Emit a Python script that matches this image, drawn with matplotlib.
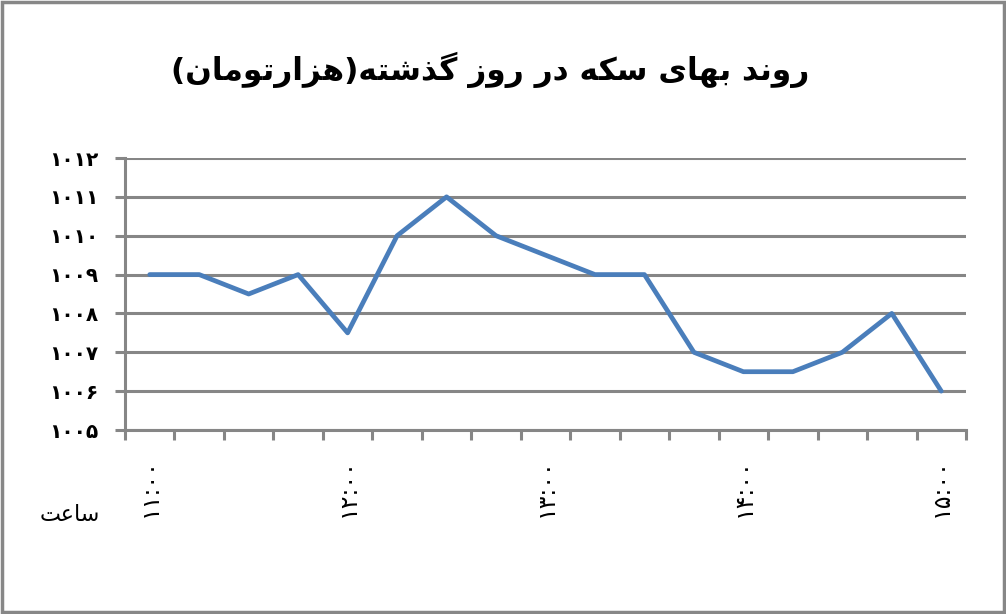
import matplotlib
matplotlib.use("Agg")
import matplotlib.pyplot as plt
from matplotlib.patches import Rectangle

# ---------------- data ----------------
title_text = "روند بهای سکه در روز گذشته(هزارتومان)"
x_axis_title = "ساعت"
x_labels = ["۱۱:۰۰", "۱۲:۰۰", "۱۳:۰۰", "۱۴:۰۰", "۱۵:۰۰"]
label_every = 4
prices = [1009, 1009, 1008.5, 1009, 1007.5, 1010, 1011, 1010, 1009.5,
          1009, 1009, 1007, 1006.5, 1006.5, 1007, 1008, 1006]
y_ticks = [1005, 1006, 1007, 1008, 1009, 1010, 1011, 1012]

# ------------- minimal Arabic/Persian shaping -------------
# forms: (isolated, final, initial, medial); None for initial/medial => right-joining only
FORMS = {
    'ا': ('\uFE8D', '\uFE8E', None, None),
    'ب': ('\uFE8F', '\uFE90', '\uFE91', '\uFE92'),
    'ت': ('\uFE95', '\uFE96', '\uFE97', '\uFE98'),
    'د': ('\uFEA9', '\uFEAA', None, None),
    'ذ': ('\uFEAB', '\uFEAC', None, None),
    'ر': ('\uFEAD', '\uFEAE', None, None),
    'ز': ('\uFEAF', '\uFEB0', None, None),
    'س': ('\uFEB1', '\uFEB2', '\uFEB3', '\uFEB4'),
    'ش': ('\uFEB5', '\uFEB6', '\uFEB7', '\uFEB8'),
    'ع': ('\uFEC9', '\uFECA', '\uFECB', '\uFECC'),
    'م': ('\uFEE1', '\uFEE2', '\uFEE3', '\uFEE4'),
    'ن': ('\uFEE5', '\uFEE6', '\uFEE7', '\uFEE8'),
    'ه': ('\uFEE9', '\uFEEA', '\uFEEB', '\uFEEC'),
    'و': ('\uFEED', '\uFEEE', None, None),
    'ی': ('\uFBFC', '\uFBFD', '\uFBFE', '\uFBFF'),
    'ک': ('\uFB8E', '\uFB8F', '\uFB90', '\uFB91'),
    'گ': ('\uFB92', '\uFB93', '\uFB94', '\uFB95'),
}
MIRROR = {'(': ')', ')': '('}


def shape(text):
    out = []
    n = len(text)
    for i, ch in enumerate(text):
        if ch not in FORMS:
            out.append(ch)
            continue
        prev = text[i - 1] if i > 0 else None
        nxt = text[i + 1] if i < n - 1 else None
        join_prev = prev in FORMS and FORMS[prev][2] is not None
        join_next = nxt in FORMS and FORMS[ch][2] is not None
        iso, fin, ini, med = FORMS[ch]
        if join_prev and join_next:
            out.append(med)
        elif join_prev:
            out.append(fin)
        elif join_next:
            out.append(ini)
        else:
            out.append(iso)
    vis = ''.join(MIRROR.get(c, c) for c in reversed(out))
    return vis


W, H = 1006, 614
fig = plt.figure(figsize=(W / 100, H / 100), dpi=100)
fig.patch.set_facecolor("white")

ax = fig.add_axes([125 / W, 1 - 430 / H, (966 - 125) / W, (430 - 158) / H])

grid_c = "#868686"
x = list(range(len(prices)))
ax.plot(x, prices, color="#4A7EBB", lw=3.4, solid_joinstyle="round",
        solid_capstyle="round", zorder=3)

ax.set_xlim(-0.5, len(prices) - 0.5)
ax.set_ylim(y_ticks[0], y_ticks[-1])
ax.set_yticks(y_ticks)
persian_digits = str.maketrans("0123456789", "۰۱۲۳۴۵۶۷۸۹")
ax.set_yticklabels([str(v).translate(persian_digits) for v in y_ticks],
                   fontsize=14.5, fontweight="bold", family=["DejaVu Sans"])
ax.yaxis.grid(True, color=grid_c, lw=2.2)
ax.set_axisbelow(True)

# category boundary ticks
ax.set_xticks([i - 0.5 for i in range(len(prices) + 1)])
ax.set_xticklabels([])
ax.set_xticks(list(range(0, len(prices), label_every)), minor=True)
ax.set_xticklabels(x_labels, minor=True, rotation=90, fontsize=17,
                   family=["DejaVu Sans"], va="top")
ax.tick_params(axis="x", which="minor", length=0, pad=20)
ax.tick_params(axis="x", which="major", length=7, width=2.2, color=grid_c)
ax.tick_params(axis="y", length=7, width=2.2, color=grid_c, pad=12)

for s in ["top", "right"]:
    ax.spines[s].set_visible(False)
for s in ["left", "bottom"]:
    ax.spines[s].set_color(grid_c)
    ax.spines[s].set_linewidth(2.2)

fig.text(490 / W, 1 - 70 / H, shape(title_text), ha="center", va="center",
         fontsize=22.5, fontweight="bold", family=["DejaVu Sans"])
fig.text(70 / W, 1 - 515 / H, shape(x_axis_title), ha="center", va="center",
         fontsize=16, family=["DejaVu Sans"])

fig.patches.append(Rectangle((0.0015, 0.0025), 0.997, 0.995, transform=fig.transFigure,
                             fill=False, edgecolor="#878787", lw=2.5))

fig.savefig("out.png", dpi=100, facecolor="white")
